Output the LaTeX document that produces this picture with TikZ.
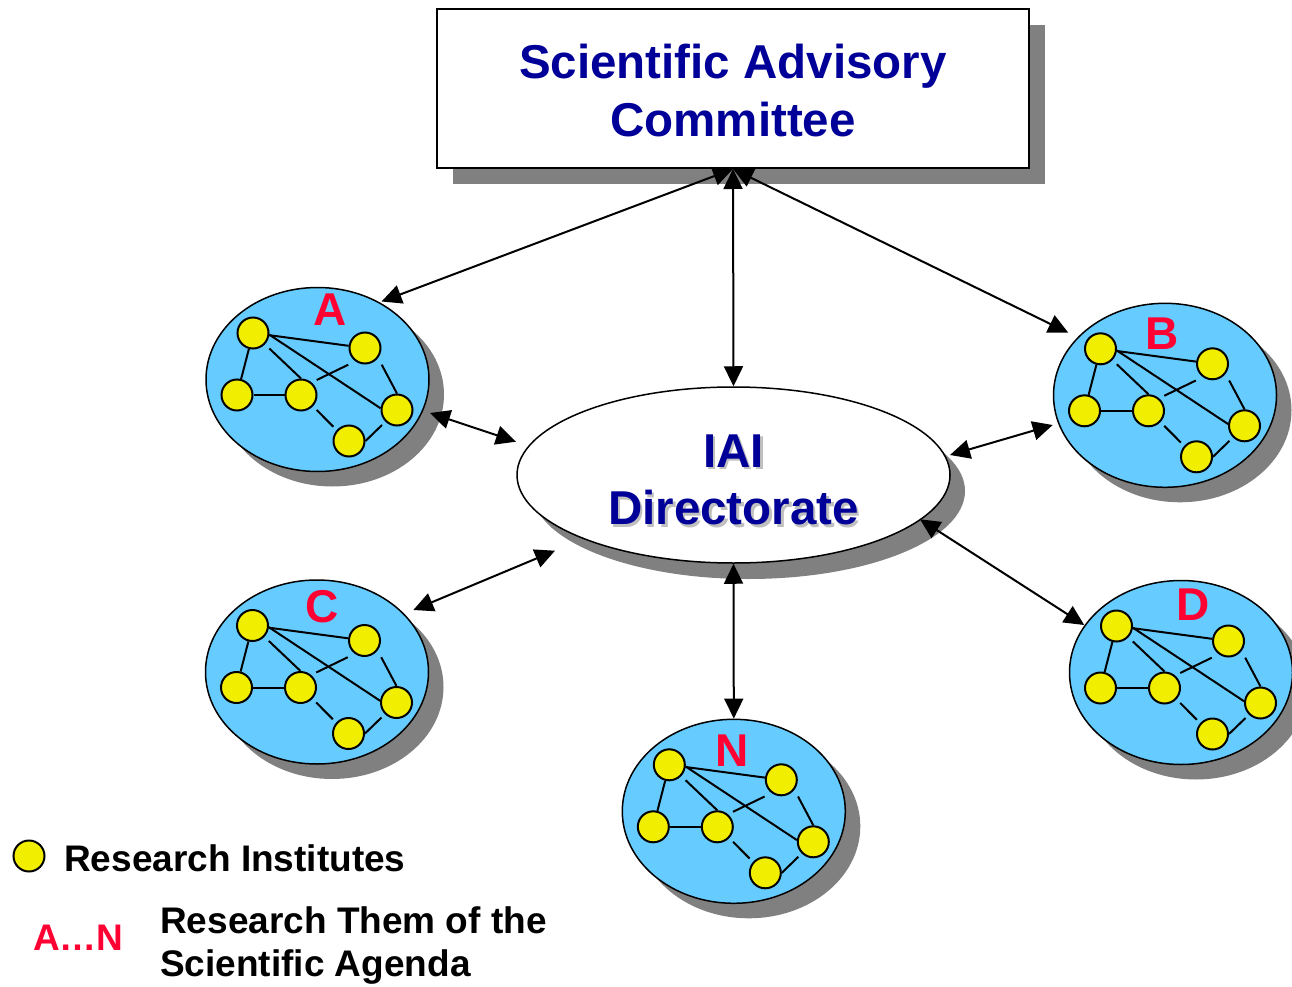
\documentclass[tikz,border=0pt]{standalone}
\usepackage{fontspec}
\setmainfont{Liberation Sans}
\usetikzlibrary{shapes.geometric,shadows,arrows.meta,calc}
\definecolor{navy}{HTML}{000099}
\definecolor{clblue}{HTML}{66CCFF}
\definecolor{riyellow}{HTML}{F2EE00}
\definecolor{labred}{HTML}{FF0033}
\definecolor{shadowgray}{HTML}{808080}
\tikzset{
  shadowed/.style={drop shadow={shadow xshift=15pt, shadow yshift=-15pt, fill=shadowgray, opacity=1}},
  clusterbox/.style={ellipse, draw=black, line width=1.5pt, fill=clblue, minimum width=223pt, minimum height=184pt, inner sep=0pt, shadowed},
  inst/.style={circle, draw=black, line width=2pt, fill=riyellow, minimum size=31pt, inner sep=0pt},
  link/.style={line width=2pt},
  conn/.style={line width=2pt, {Triangle[length=20pt,width=19pt]}-{Triangle[length=20pt,width=19pt]}},
  clabel/.style={text=labred, font=\fontsize{46}{46}\selectfont\bfseries, inner sep=0pt},
  bigtitle/.style={text=navy, font=\fontsize{47.5}{57.5}\selectfont\bfseries, align=center, inner sep=0pt, text depth=0pt, anchor=south},
  legendtext/.style={font=\fontsize{37}{43.4}\selectfont\bfseries, inner sep=0pt},
}
\newcommand\mkcluster[6]{%
  \node[clusterbox] (#1) at (#2,#3) {};
  \node[inst] (#1n1) at ($(#1)+(-64.5,-46.5)$) {};
  \node[inst] (#1n2) at ($(#1)+(47.5,-31.5)$) {};
  \node[inst] (#1n3) at ($(#1)+(-80.5,15.5)$) {};
  \node[inst] (#1n4) at ($(#1)+(-16.5,15.5)$) {};
  \node[inst] (#1n5) at ($(#1)+(79.5,30.5)$) {};
  \node[inst] (#1n6) at ($(#1)+(31.5,61.5)$) {};
  \draw[link] (#1n1) -- (#1n2);
  \draw[link] (#1n1) -- (#1n3);
  \draw[link] (#1n3) -- (#1n4);
  \draw[link, shorten <=6pt] (#1n1) -- (#1n4.north);
  \draw[link] (#1n1.354) -- (#1n5.174);
  \draw[link] ($(#1n2)+(-16.7,16.7)$) -- ($(#1n4)+(15.7,-15)$);
  \draw[link] ($(#1n2)+(16.7,16.7)$) -- (#1n5.north);
  \draw[link] ($(#1n4)+(15.7,15)$) -- ($(#1n6)+(-15.7,-14.3)$);
  \draw[link] (#1n6.east) -- ($(#1n5)+(-15,15)$);
  \node[clabel] (#1lab) at ($(#1)+(#5,#6)$) {#4};
}
\begin{document}
\begin{tikzpicture}[x=1pt,y=-1pt]
  \path[use as bounding box, fill=white] (0,0) rectangle (1292,987);

  % Scientific Advisory Committee
  \node[draw=black, line width=2pt, fill=white, minimum width=592pt, minimum height=159pt, inner sep=0pt,
        drop shadow={shadow xshift=16pt, shadow yshift=-16pt, fill=shadowgray, opacity=1}] (sac) at (733,88.5) {};
  \node[bigtitle] (sactitle) at (733,136.7) {Scientific Advisory\\Committee};

  % IAI Directorate
  \node[ellipse, draw=black, line width=1.5pt, fill=white, minimum width=433pt, minimum height=176pt, inner sep=0pt,
        drop shadow={shadow xshift=15pt, shadow yshift=-16pt, fill=shadowgray, opacity=1}] (iai) at (733.5,475) {};
  \node[bigtitle, text=black!25] (iaishade) at (736,527.5) {IAI\\Directorate};
  \node[bigtitle] (iaititle) at (733.5,525) {IAI\\Directorate};

  % clusters
  \mkcluster{A}{317.5}{379.5}{A}{12.5}{-69.5}
  \mkcluster{B}{1165}{395.3}{B}{-3.3}{-62}
  \mkcluster{C}{317}{672}{C}{4.7}{-65.7}
  \mkcluster{D}{1181}{672.5}{D}{12.5}{-67.5}
  \mkcluster{N}{733.8}{811.3}{N}{-1.5}{-60.6}

  % connectors
  \draw[conn] (sac.south) -- ($(A)+(64,-78)$);
  \draw[conn] (sac.south) -- (iai.north);
  \draw[conn] (sac.south) -- ($(B)+(-96.7,-62.6)$);
  \draw[conn] ($(A)+(112.5,33.5)$) -- ($(iai)+(-217.5,-33.3)$);
  \draw[conn] ($(B)+(-112.3,29.7)$) -- ($(iai)+(216.5,-20)$);
  \draw[conn] ($(C)+(96.3,-62)$) -- ($(iai)+(-178.5,75.7)$);
  \draw[conn] ($(D)+(-96.8,-47.5)$) -- ($(iai)+(186.5,44.3)$);
  \draw[conn] (iai.south) -- (N.north);

  % legend
  \node[inst] (legdot) at (29,856) {};
  \node[legendtext, anchor=base west] (legri) at (64,871.7) {Research Institutes};
  \node[legendtext, anchor=base west, text=labred] (legan) at (33,950) {A…N};
  \node[legendtext, anchor=south west, align=left, text depth=0pt] (legtheme) at (160,976.7) {Research Them of the\\Scientific Agenda};
\end{tikzpicture}
\end{document}
